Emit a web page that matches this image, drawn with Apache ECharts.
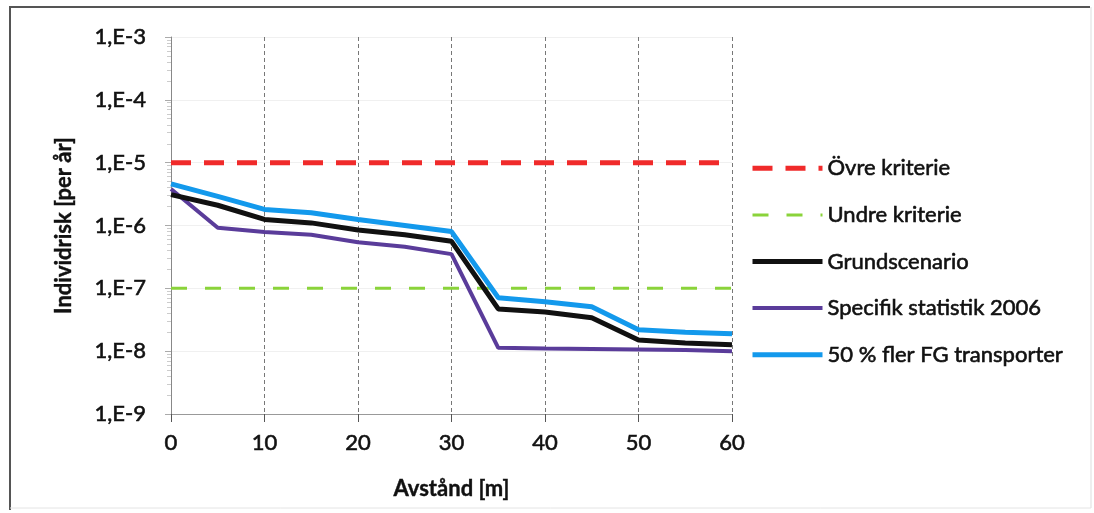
<!DOCTYPE html>
<html>
<head>
<meta charset="utf-8">
<script src="https://cdn.jsdelivr.net/npm/echarts@6/dist/echarts.min.js"></script>
<style>
html,body{margin:0;padding:0;background:#fff;}
#c{width:1094px;height:513px;}
</style>
</head>
<body>
<div id="c"></div>
<script>
const xValues = [0, 5, 10, 15, 20, 25, 30, 35, 40, 45, 50, 55, 60];
const seriesNames = ['Övre kriterie', 'Undre kriterie', 'Grundscenario', 'Specifik statistik 2006', '50 % fler FG transporter'];
const ovreKriterie = [1e-5, 1e-5];
const undreKriterie = [1e-7, 1e-7];
const criteriaX = [0, 60];
const grundscenario = [3.1e-6, 2.1e-6, 1.25e-6, 1.1e-6, 8.5e-7, 7.1e-7, 5.6e-7, 4.7e-8, 4.2e-8, 3.4e-8, 1.5e-8, 1.35e-8, 1.27e-8];
const specifik2006 = [3.8e-6, 9.2e-7, 7.9e-7, 7.1e-7, 5.4e-7, 4.6e-7, 3.5e-7, 1.13e-8, 1.1e-8, 1.08e-8, 1.06e-8, 1.04e-8, 1.0e-8];
const fler50 = [4.6e-6, 2.9e-6, 1.8e-6, 1.6e-6, 1.25e-6, 1.0e-6, 8.0e-7, 7.1e-8, 6.1e-8, 5.1e-8, 2.2e-8, 2.0e-8, 1.9e-8];

const pair = (xs, ys) => xs.map((x, i) => [x, ys[i]]);
const FONT = 'Lato';
const FS = 22;
const TXT = { fontFamily: FONT, fontSize: FS, color: '#111', textBorderColor: '#111', textBorderWidth: 0.6 };
const NAME_TXT = { fontFamily: FONT, fontSize: FS, fontWeight: 'bold', color: '#111', textBorderColor: '#111', textBorderWidth: 0.4 };

const styles = {
  'Övre kriterie': { color: '#f02a2a', width: 5, type: [20, 13] },
  'Undre kriterie': { color: '#8ad33a', width: 3, type: [16, 18] },
  'Grundscenario': { color: '#111111', width: 5, type: 'solid' },
  'Specifik statistik 2006': { color: '#5a3c9a', width: 4, type: 'solid' },
  '50 % fler FG transporter': { color: '#1399ec', width: 5, type: 'solid' }
};

const chart = echarts.init(document.getElementById('c'));
chart.setOption({
  animation: false,
  backgroundColor: '#fff',
  textStyle: { fontFamily: FONT },
  graphic: [
    { type: 'line', shape: { x1: 9, y1: 7, x2: 1090, y2: 7 }, style: { stroke: '#555', lineWidth: 2 } },
    { type: 'line', shape: { x1: 10, y1: 7, x2: 10, y2: 510 }, style: { stroke: '#555', lineWidth: 2 } },
    { type: 'line', shape: { x1: 1091, y1: 7, x2: 1091, y2: 508 }, style: { stroke: '#ddd', lineWidth: 1 } },
    { type: 'line', shape: { x1: 10, y1: 508, x2: 1091, y2: 508 }, style: { stroke: '#e4e4e4', lineWidth: 1 } }
  ],
  grid: { left: 171, right: 362, top: 37, bottom: 99, containLabel: false },
  legend: {
    orient: 'vertical',
    left: 745,
    top: 152,
    itemWidth: 70,
    itemHeight: 12,
    itemGap: 24,
    data: seriesNames.map(n => ({
      name: n,
      lineStyle: { color: styles[n].color, width: styles[n].width, type: styles[n].type }
    })),
    itemStyle: { opacity: 0 },
    textStyle: Object.assign({}, TXT)
  },
  xAxis: {
    type: 'value',
    min: 0, max: 60, interval: 10,
    axisLine: { onZero: false, lineStyle: { color: '#999', width: 1 } },
    axisTick: { show: true, length: 8, inside: false, lineStyle: { color: '#555' } },
    axisLabel: Object.assign({ margin: 18 }, TXT),
    splitLine: { show: true, lineStyle: { color: '#777', type: [4, 3], width: 1 } },
    name: 'Avstånd [m]',
    nameLocation: 'middle',
    nameGap: 64,
    nameTextStyle: NAME_TXT
  },
  yAxis: {
    type: 'log',
    logBase: 10,
    min: 1e-9, max: 1e-3,
    axisLine: { show: true, lineStyle: { color: '#888', width: 1 } },
    axisTick: { show: true, length: 6, lineStyle: { color: '#aaa' } },
    minorTick: { show: true, splitNumber: 9, length: 4, lineStyle: { color: '#ccc' } },
    axisLabel: Object.assign({
      margin: 25,
      formatter: v => '1,E' + Math.round(Math.log10(v))
    }, TXT),
    splitLine: { show: true, lineStyle: { color: '#f0f0f0', width: 1 } },
    name: 'Individrisk [per år]',
    nameLocation: 'middle',
    nameGap: 96,
    nameRotate: 90,
    nameTextStyle: NAME_TXT
  },
  series: [
    {
      name: seriesNames[0], type: 'line', symbol: 'none', z: 3,
      data: pair(criteriaX, ovreKriterie),
      lineStyle: styles[seriesNames[0]],
      itemStyle: { color: styles[seriesNames[0]].color }
    },
    {
      name: seriesNames[1], type: 'line', symbol: 'none', z: 3,
      data: pair(criteriaX, undreKriterie),
      lineStyle: styles[seriesNames[1]],
      itemStyle: { color: styles[seriesNames[1]].color }
    },
    {
      name: seriesNames[3], type: 'line', symbol: 'none', z: 4,
      data: pair(xValues, specifik2006),
      lineStyle: styles[seriesNames[3]],
      itemStyle: { color: styles[seriesNames[3]].color }
    },
    {
      name: seriesNames[2], type: 'line', symbol: 'none', z: 5,
      data: pair(xValues, grundscenario),
      lineStyle: styles[seriesNames[2]],
      itemStyle: { color: styles[seriesNames[2]].color }
    },
    {
      name: seriesNames[4], type: 'line', symbol: 'none', z: 6,
      data: pair(xValues, fler50),
      lineStyle: styles[seriesNames[4]],
      itemStyle: { color: styles[seriesNames[4]].color }
    }
  ]
});
</script>
</body>
</html>
